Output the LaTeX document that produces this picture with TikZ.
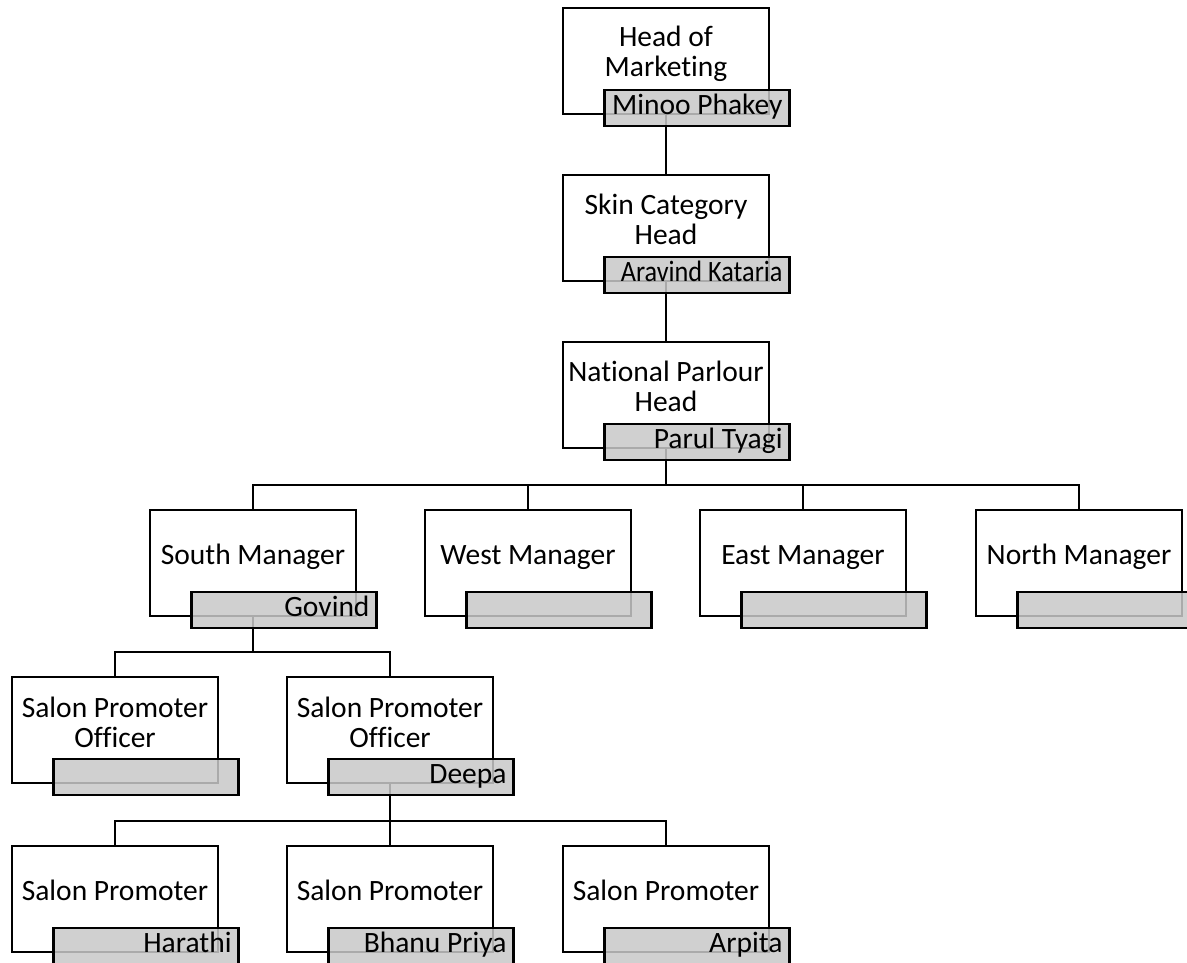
\documentclass[tikz,border=0pt]{standalone}
\usepackage{fontspec}
\setmainfont{Carlito}[Ligatures=NoCommon]
\definecolor{namegray}{RGB}{200,200,200}
\tikzset{
  post/.style={draw, line width=2.4pt, minimum width=206pt, minimum height=106pt, inner sep=0pt, fill=white},
  namebox/.style={draw, line width=2.4pt, fill=namegray, fill opacity=0.85, draw opacity=1, minimum width=185pt, minimum height=36pt, inner sep=0pt},
  title/.style={anchor=base, align=center, inner sep=0pt, font=\fontsize{29.5}{30}\selectfont},
  pname/.style={anchor=base east, inner sep=0pt, font=\fontsize{29.5}{30}\selectfont},
  link/.style={line width=2.4pt},
}
\newcommand\mkpost[3]{\node[post] (#1) at (#2,#3) {};}
\newcommand\mkname[2]{%
  \node[namebox] (#1n) at ([xshift=31pt,yshift=-47pt]#1.center) {};
  \node[pname] (#1p) at ([xshift=-8pt,yshift=-26pt]#1n.north east) {#2};}
\begin{document}
\begin{tikzpicture}[x=1pt,y=-1pt]
\useasboundingbox (0,0) rectangle (1187,963);
\clip (0,0) rectangle (1187,963);
% main boxes
\mkpost{hm}{666}{61}
\mkpost{sc}{666}{228}
\mkpost{np}{666}{395}
\mkpost{sm}{253}{563}
\mkpost{wm}{528}{563}
\mkpost{em}{803}{563}
\mkpost{nm}{1079}{563}
\mkpost{spa}{115}{730}
\mkpost{spb}{390}{730}
\mkpost{pa}{115}{899}
\mkpost{pb}{390}{899}
\mkpost{pc}{666}{899}
% titles
\node[title] (hmt) at ([yshift=-16pt]hm.center) {Head of\\Marketing};
\node[title] (sct) at ([yshift=-16pt]sc.center) {Skin Category\\Head};
\node[title] (npt) at ([yshift=-16pt]np.center) {National Parlour\\Head};
\node[title] (smt) at ([yshift=-1pt]sm.center) {South Manager};
\node[title] (wmt) at ([yshift=-1pt]wm.center) {West Manager};
\node[title] (emt) at ([yshift=-1pt]em.center) {East Manager};
\node[title] (nmt) at ([yshift=-1pt]nm.center) {North Manager};
\node[title] (spat) at ([yshift=-17pt]spa.center) {Salon Promoter\\Officer};
\node[title] (spbt) at ([yshift=-17pt]spb.center) {Salon Promoter\\Officer};
\node[title] (pat) at ([yshift=-1pt]pa.center) {Salon Promoter};
\node[title] (pbt) at ([yshift=-1pt]pb.center) {Salon Promoter};
\node[title] (pct) at ([yshift=-1pt]pc.center) {Salon Promoter};
% connectors
\coordinate (bus3) at (666,485);
\coordinate (bus4) at (253,652);
\coordinate (bus5) at (390,821);
\draw[link] (hm.south) -- (sc.north);
\draw[link] (sc.south) -- (np.north);
\draw[link] (np.south) -- (bus3) -| (sm.north);
\draw[link] (bus3) -| (wm.north);
\draw[link] (bus3) -| (em.north);
\draw[link] (bus3) -| (nm.north);
\draw[link] (sm.south) -- (bus4) -| (spa.north);
\draw[link] (bus4) -| (spb.north);
\draw[link] (spb.south) -- (bus5) -| (pa.north);
\draw[link] (bus5) -| (pb.north);
\draw[link] (bus5) -| (pc.north);
% name boxes
\mkname{hm}{Minoo Phakey}
\mkname{sc}{\scalebox{0.89}[1]{Aravind Kataria}}
\mkname{np}{Parul Tyagi}
\mkname{sm}{Govind}
\mkname{wm}{}
\mkname{em}{}
\mkname{nm}{}
\mkname{spa}{}
\mkname{spb}{Deepa}
\mkname{pa}{Harathi}
\mkname{pb}{Bhanu Priya}
\mkname{pc}{Arpita}
\end{tikzpicture}
\end{document}
